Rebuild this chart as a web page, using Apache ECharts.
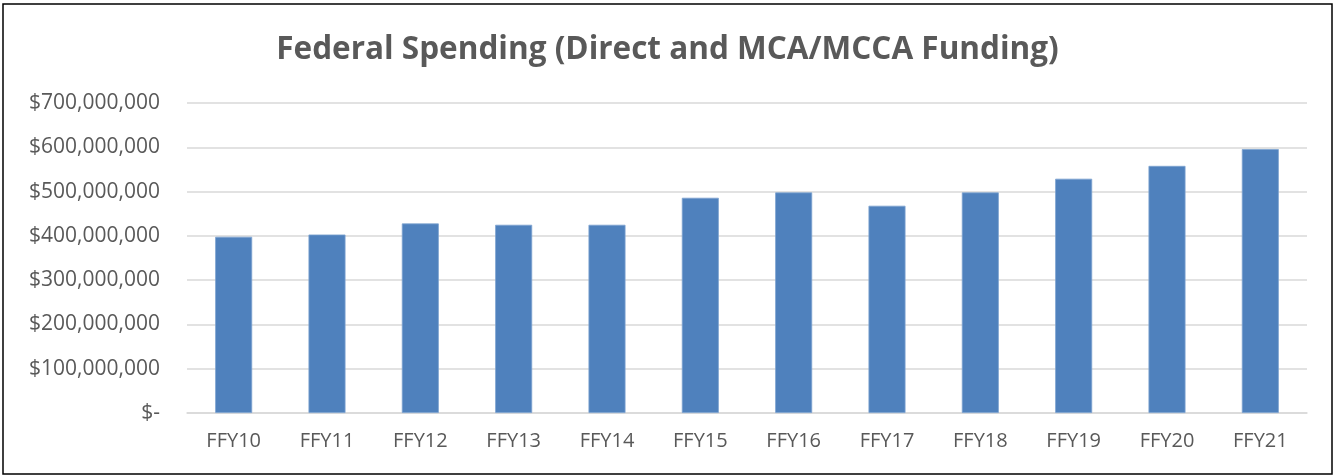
<!DOCTYPE html>
<html>
<head>
<meta charset="utf-8">
<script src="https://cdn.jsdelivr.net/npm/echarts@6/dist/echarts.min.js"></script>
<style>
    html, body { margin: 0; padding: 0; background: #fff; }
    #chart { width: 1335px; height: 476px; }
</style>
</head>
<body>
<div id="chart"></div>
<script>
// Federal spending per fiscal year
const years = ['FFY10', 'FFY11', 'FFY12', 'FFY13', 'FFY14', 'FFY15', 'FFY16', 'FFY17', 'FFY18', 'FFY19', 'FFY20', 'FFY21']
const spending = [398000000, 403000000, 428000000, 425000000, 425000000, 486000000, 498000000, 468000000, 498000000, 529000000, 558000000, 596000000]
const yTicks = [0, 100000000, 200000000, 300000000, 400000000, 500000000, 600000000, 700000000]

const fmtMoney = (v) => {
    if (v === 0) return '$-'
    return '$' + v.toLocaleString('en-US')
}

var chart = echarts.init(document.getElementById('chart'))
var option = {
    animation: false,
    title: {
        text: 'Federal Spending (Direct and MCA/MCCA Funding)',
        left: 'center',
        top: 29,
        textStyle: {
            fontFamily: 'Open Sans',
            fontWeight: 'bold',
            fontSize: 31.5,
            color: '#595959'
        }
    },
    graphic: [{
        type: 'rect',
        shape: { x: 3, y: 4, width: 1329, height: 470 },
        style: { fill: 'none', stroke: '#000', lineWidth: 1.5 },
        silent: true
    }],
    grid: {
        left: 187,
        right: 28,
        top: 103,
        bottom: 63
    },
    xAxis: {
        type: 'category',
        data: years,
        axisTick: { show: false },
        axisLine: { lineStyle: { color: '#d9d9d9', width: 1.5 } },
        axisLabel: {
            margin: 18,
            fontFamily: 'Open Sans',
            fontSize: 20,
            color: '#595959'
        }
    },
    yAxis: {
        type: 'value',
        min: yTicks[0],
        max: yTicks[yTicks.length - 1],
        interval: 100000000,
        axisLine: { show: false },
        axisTick: { show: false },
        splitLine: { lineStyle: { color: '#d9d9d9', width: 1.5 } },
        axisLabel: {
            margin: 27,
            fontFamily: 'Open Sans',
            fontSize: 21,
            color: '#595959',
            formatter: fmtMoney
        }
    },
    series: [
        {
            type: 'bar',
            data: spending,
            barWidth: 37,
            itemStyle: {
                color: '#4f81bd',
                borderColor: '#7ea3d0',
                borderWidth: 0.8
            }
        }
    ]
}
chart.setOption(option)
</script>
</body>
</html>
